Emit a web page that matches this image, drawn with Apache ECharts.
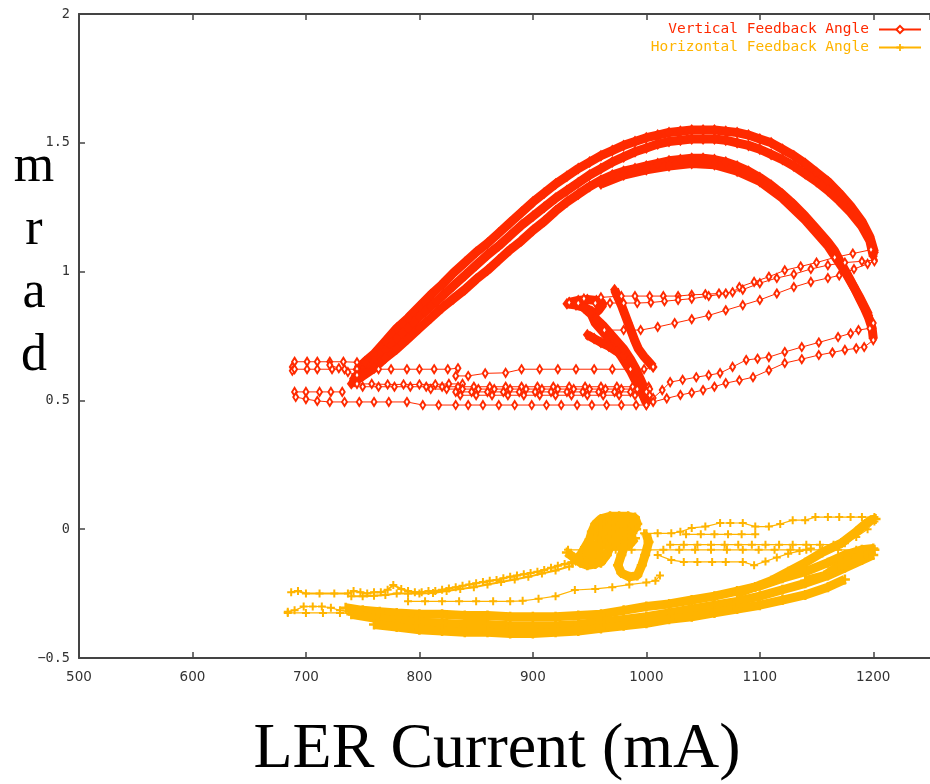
<!DOCTYPE html>
<html><head><meta charset="utf-8">
<script src="https://cdn.jsdelivr.net/npm/echarts@6/dist/echarts.min.js"></script>
<style>html,body{margin:0;padding:0;background:#fff}#c{width:930px;height:784px}</style>
</head><body><div id="c"></div><script>
// ---------- axis ticks ----------
const xTicks = [500, 600, 700, 800, 900, 1000, 1100, 1200];
const yTicks = [-0.5, 0, 0.5, 1, 1.5, 2];
const seriesNames = ['Vertical Feedback Angle', 'Horizontal Feedback Angle'];

// ---------- Vertical Feedback Angle (red) : sparse paths ----------
const vLeftTop = [[688,0.63],[690,0.65],[701,0.65],[710,0.65],[721,0.65],[733,0.65],[745,0.648]];
const vLeft062 = [[688,0.615],[690,0.621],[701,0.621],[710,0.621],[723,0.621],[734,0.621],[745,0.621],[764,0.621],[775,0.621],[789,0.621],[800,0.621],[813,0.621],[825,0.621],[834,0.625]];
const vLeftSlope = [[721,0.637],[729,0.625],[737,0.61],[745,0.598]];
const vMid062 = [[832,0.595],[843,0.595],[858,0.605],[876,0.607],[890,0.621],[906,0.621],[922,0.621],[938,0.621],[954,0.621],[970,0.621],[986,0.621],[998,0.621],[1006,0.63]];
const vLine056 = [[745,0.564],[758,0.564],[772,0.562],[786,0.562],[800,0.562],[814,0.562],[826,0.564],[838,0.564]];
const vLine055 = [[750,0.553],[764,0.553],[778,0.553],[792,0.553],[806,0.553],[820,0.553],[834,0.553],[848,0.553],[862,0.553],[876,0.553],[890,0.553],[904,0.553],[918,0.553],[932,0.553],[946,0.553],[960,0.553],[974,0.553],[988,0.553],[1002,0.553]];
const vLine054 = [[810,0.544],[824,0.544],[838,0.544],[852,0.544],[866,0.544],[880,0.544],[894,0.544],[908,0.544],[922,0.544],[936,0.544],[950,0.544],[964,0.544],[978,0.544],[992,0.544],[1003,0.544]];
const vLeft053 = [[690,0.533],[700,0.533],[712,0.533],[722,0.533],[732,0.533]];
const vLine053 = [[832,0.533],[846,0.533],[860,0.533],[874,0.533],[888,0.533],[902,0.533],[916,0.533],[930,0.533],[944,0.533],[958,0.533],[972,0.533],[986,0.533],[1000,0.533]];
const vLine052 = [[836,0.52],[850,0.52],[864,0.52],[878,0.52],[892,0.52],[906,0.52],[920,0.52],[934,0.52],[948,0.52],[962,0.52],[976,0.52],[990,0.52],[1003,0.52]];
const vBottom = [[691,0.513],[700,0.505],[710,0.498],[721,0.494],[734,0.494],[747,0.494],[760,0.494],[773,0.494],[789,0.494],[803,0.482],[817,0.482],[832,0.482],[843,0.482],[856,0.482],[870,0.482],[884,0.482],[899,0.482],[912,0.482],[925,0.482],[939,0.482],[952,0.482],[965,0.482],[978,0.482],[991,0.482],[1000,0.482]];
const vUpper090 = [[932,0.88],[945,0.895],[960,0.9],[978,0.905],[990,0.905],[1003,0.905],[1015,0.905],[1028,0.905],[1040,0.91],[1052,0.912],[1064,0.915],[1076,0.92],[1082,0.94],[1095,0.96],[1108,0.98],[1122,1.005],[1136,1.02],[1150,1.035],[1166,1.055],[1182,1.07],[1198,1.085]];
const vUpper088 = [[940,0.878],[955,0.878],[968,0.878],[980,0.878],[992,0.878],[1004,0.88],[1016,0.885],[1028,0.89],[1040,0.895],[1055,0.905],[1070,0.915],[1085,0.93],[1100,0.955],[1115,0.975],[1130,0.99],[1145,1.01],[1160,1.025],[1175,1.035],[1190,1.04],[1201,1.045]];
const vUpper077 = [[963,0.773],[980,0.773],[995,0.773],[1010,0.785],[1025,0.8],[1040,0.815],[1055,0.83],[1070,0.85],[1085,0.87],[1100,0.89],[1115,0.915],[1130,0.94],[1145,0.96],[1160,0.975],[1170,0.985],[1183,1.01],[1195,1.03],[1201,1.04]];
const vLow1 = [[1000,0.49],[1006,0.509],[1014,0.54],[1021,0.571],[1032,0.58],[1044,0.59],[1055,0.598],[1065,0.606],[1076,0.63],[1088,0.657],[1098,0.662],[1108,0.668],[1122,0.688],[1137,0.707],[1152,0.725],[1169,0.746],[1180,0.76],[1187,0.773],[1197,0.78],[1200,0.8]];
const vLow2 = [[1000,0.482],[1006,0.494],[1018,0.508],[1030,0.521],[1040,0.53],[1050,0.54],[1060,0.553],[1070,0.567],[1082,0.578],[1094,0.59],[1108,0.617],[1122,0.645],[1137,0.66],[1152,0.676],[1164,0.686],[1175,0.696],[1185,0.702],[1192,0.707],[1200,0.734]];

// ---------- Vertical Feedback Angle (red) : dense passes ----------
const vOuter = [[745,0.62],[752,0.65],[760,0.68],[770,0.73],[780,0.78],[790,0.82],[800,0.865],[810,0.91],[820,0.95],[830,0.995],[840,1.035],[850,1.075],[860,1.11],[870,1.15],[880,1.19],[890,1.23],[900,1.27],[910,1.305],[920,1.34],[930,1.37],[940,1.40],[950,1.425],[960,1.45],[970,1.47],[980,1.49],[990,1.505],[1000,1.52],[1010,1.53],[1020,1.54],[1030,1.545],[1040,1.55],[1050,1.55],[1060,1.55],[1070,1.545],[1080,1.54],[1090,1.53],[1100,1.515],[1110,1.50],[1120,1.475],[1130,1.45],[1140,1.42],[1150,1.385],[1160,1.35],[1170,1.305],[1180,1.255],[1190,1.195],[1197,1.135],[1201,1.075]];
const vMiddle = [[742,0.585],[750,0.615],[760,0.65],[770,0.695],[780,0.74],[790,0.78],[800,0.825],[810,0.865],[820,0.905],[830,0.945],[840,0.985],[850,1.025],[860,1.065],[870,1.10],[880,1.14],[890,1.18],[900,1.215],[910,1.25],[920,1.285],[930,1.315],[940,1.345],[950,1.375],[960,1.40],[970,1.425],[980,1.445],[990,1.465],[1000,1.48],[1010,1.495],[1020,1.505],[1030,1.51],[1040,1.515],[1050,1.515],[1060,1.515],[1070,1.51],[1080,1.50],[1090,1.49],[1100,1.475],[1110,1.455],[1120,1.435],[1130,1.41],[1140,1.38],[1150,1.35],[1160,1.315],[1170,1.275],[1180,1.23],[1190,1.175],[1197,1.12],[1200,1.06]];
const vInner = [[740,0.565],[750,0.595],[760,0.625],[770,0.665],[780,0.70],[790,0.74],[800,0.78],[810,0.82],[820,0.86],[830,0.895],[840,0.93],[850,0.97],[860,1.005],[870,1.045],[880,1.085],[890,1.12],[900,1.16],[910,1.195],[920,1.235],[930,1.27],[940,1.30],[950,1.33],[960,1.355],[970,1.375],[980,1.39],[990,1.40],[1000,1.41],[1010,1.42],[1020,1.43],[1030,1.435],[1040,1.44],[1050,1.44],[1060,1.435],[1070,1.425],[1080,1.41],[1090,1.39],[1100,1.365],[1110,1.335],[1120,1.30],[1130,1.26],[1140,1.215],[1150,1.165],[1160,1.115],[1166,1.08],[1172,1.03],[1177,0.99],[1183,0.94],[1188,0.895],[1192,0.86],[1196,0.82],[1199,0.78],[1200,0.74]];
const vInner2 = [[960,1.34],[980,1.375],[1000,1.395],[1020,1.41],[1040,1.42],[1060,1.415],[1080,1.39],[1100,1.35],[1120,1.285],[1140,1.2],[1160,1.1],[1175,1.0],[1188,0.9],[1196,0.83]];
const vClusterA = [[932,0.88],[940,0.888],[948,0.892],[956,0.888],[962,0.875],[958,0.85],[952,0.83],[955,0.8],[960,0.775],[966,0.745],[971,0.715],[976,0.685],[981,0.65],[986,0.615],[990,0.58],[994,0.55],[997,0.52],[1000,0.49]];
const vClusterB = [[972,0.93],[975,0.9],[978,0.87],[981,0.835],[984,0.8],[987,0.765],[990,0.73],[993,0.7],[998,0.67],[1003,0.645],[1006,0.63]];
const vClusterC = [[948,0.755],[954,0.74],[960,0.725],[967,0.71],[974,0.69],[980,0.675]];
const vClusterD = [[930,0.875],[938,0.87],[946,0.86],[952,0.845]];
const vClusterE = [[945,0.86],[950,0.84],[956,0.815],[962,0.79],[968,0.76],[974,0.73],[980,0.70],[986,0.66],[991,0.62],[995,0.58],[999,0.54],[1002,0.5]];

// ---------- Horizontal Feedback Angle (orange) : sparse paths ----------
const hLeftUpper = [[687,-0.245],[693,-0.24],[700,-0.25],[712,-0.25],[725,-0.25],[737,-0.25],[742,-0.24],[748,-0.245],[754,-0.25],[760,-0.245],[766,-0.245],[772,-0.235],[777,-0.217],[784,-0.232],[790,-0.24],[796,-0.245],[802,-0.245],[808,-0.24],[814,-0.24],[820,-0.235],[826,-0.23],[832,-0.225],[838,-0.22],[844,-0.215],[850,-0.21],[856,-0.205],[862,-0.2],[868,-0.197],[874,-0.19],[880,-0.185],[886,-0.18],[892,-0.175],[898,-0.17],[904,-0.165],[910,-0.158],[916,-0.15],[922,-0.142],[928,-0.135],[934,-0.128],[940,-0.12]];
const hLeftUpper2 = [[740,-0.26],[750,-0.26],[760,-0.258],[770,-0.255],[780,-0.25],[790,-0.25],[800,-0.25],[812,-0.248],[824,-0.24],[836,-0.232],[848,-0.225],[860,-0.215],[872,-0.205],[884,-0.195],[896,-0.185],[908,-0.172],[920,-0.16],[932,-0.145]];
const hLeftLower = [[684,-0.32],[690,-0.315],[698,-0.30],[706,-0.30],[714,-0.30],[722,-0.305],[730,-0.315],[738,-0.32],[745,-0.32]];
const hLeftLower2 = [[684,-0.325],[700,-0.325],[715,-0.325],[730,-0.325],[745,-0.33]];
const hMidSparse = [[790,-0.28],[805,-0.28],[820,-0.28],[835,-0.28],[850,-0.28],[865,-0.28],[880,-0.28],[891,-0.278],[905,-0.27],[920,-0.26],[937,-0.236],[955,-0.232],[970,-0.225],[985,-0.215],[1000,-0.207],[1008,-0.2],[1012,-0.18]];
const hTopRight = [[998,-0.016],[1010,-0.016],[1022,-0.016],[1030,-0.01],[1040,0.005],[1052,0.01],[1065,0.024],[1074,0.024],[1085,0.024],[1096,0.01],[1108,0.01],[1118,0.02],[1129,0.035],[1140,0.035],[1149,0.047],[1160,0.047],[1170,0.047],[1180,0.047],[1190,0.047],[1201,0.047]];
const hLine002 = [[1035,-0.02],[1048,-0.02],[1060,-0.02],[1072,-0.02],[1084,-0.02],[1096,-0.02]];
const hLine006 = [[1021,-0.06],[1033,-0.06],[1045,-0.06],[1057,-0.06],[1069,-0.06],[1081,-0.06],[1093,-0.06],[1105,-0.06],[1117,-0.06],[1129,-0.06],[1141,-0.06],[1153,-0.06],[1165,-0.06],[1175,-0.055],[1185,-0.03],[1195,0.0],[1201,0.03]];
const hLine008 = [[931,-0.08],[945,-0.08],[959,-0.08],[973,-0.08],[987,-0.08],[1001,-0.08],[1015,-0.08],[1029,-0.08],[1043,-0.08],[1057,-0.08],[1071,-0.08],[1085,-0.08],[1099,-0.08],[1113,-0.08],[1127,-0.08],[1141,-0.08],[1155,-0.08],[1169,-0.08],[1185,-0.08],[1201,-0.08]];
const hLine013 = [[1010,-0.1],[1022,-0.12],[1033,-0.127],[1045,-0.127],[1058,-0.127],[1070,-0.127],[1085,-0.127],[1095,-0.14],[1105,-0.125],[1115,-0.11],[1125,-0.095],[1135,-0.085],[1145,-0.075]];

// ---------- Horizontal Feedback Angle (orange) : dense passes ----------
const hBandTop = [[735,-0.305],[750,-0.315],[765,-0.32],[780,-0.325],[800,-0.33],[820,-0.33],[840,-0.335],[860,-0.335],[880,-0.34],[900,-0.34],[920,-0.34],[940,-0.335],[960,-0.33],[980,-0.315],[1000,-0.30],[1020,-0.29],[1040,-0.275],[1060,-0.26],[1080,-0.24],[1100,-0.22],[1120,-0.19],[1140,-0.165],[1160,-0.13],[1175,-0.1],[1190,-0.08],[1200,-0.075]];
const hBandMid = [[740,-0.33],[760,-0.345],[780,-0.355],[800,-0.36],[820,-0.365],[840,-0.37],[860,-0.37],[880,-0.375],[900,-0.375],[920,-0.375],[940,-0.37],[960,-0.36],[980,-0.35],[1000,-0.34],[1020,-0.325],[1040,-0.31],[1060,-0.295],[1080,-0.28],[1100,-0.26],[1120,-0.235],[1140,-0.21],[1160,-0.18],[1175,-0.15],[1190,-0.12],[1200,-0.1]];
const hBandLow = [[760,-0.37],[780,-0.38],[800,-0.39],[820,-0.395],[840,-0.40],[860,-0.4],[880,-0.405],[900,-0.405],[920,-0.4],[940,-0.395],[960,-0.385],[980,-0.375],[1000,-0.365],[1020,-0.35],[1040,-0.34],[1060,-0.325],[1080,-0.31],[1100,-0.295],[1120,-0.275],[1140,-0.255],[1160,-0.225],[1175,-0.195]];
const hBandDiag1 = [[1080,-0.25],[1096,-0.224],[1110,-0.2],[1125,-0.165],[1140,-0.13],[1155,-0.09],[1172,-0.054],[1185,-0.01],[1193,0.02],[1198,0.035],[1202,0.04]];
const hBandDiag2 = [[1140,-0.2],[1157,-0.18],[1170,-0.14],[1185,-0.11],[1201,-0.08]];
const hBump = [[935,-0.13],[942,-0.1],[946,-0.07],[950,-0.04],[952,-0.01],[955,0.02],[960,0.04],[968,0.05],[976,0.05],[984,0.05],[990,0.045],[992,0.02],[988,0.0],[980,-0.01],[970,-0.015],[962,-0.01],[958,0.0]];
const hBumpFill = [[960,0.02],[970,0.025],[980,0.025],[988,0.02],[982,0.0],[972,0.005],[965,-0.03],[960,-0.06],[955,-0.09],[950,-0.12]];
const hBumpFill2 = [[957,0.028],[990,0.03],[991,0.0],[957,-0.005],[956,-0.035],[990,-0.035],[985,-0.06],[950,-0.06],[945,-0.09],[965,-0.1],[960,-0.13],[940,-0.12]];
const hBumpDown = [[985,-0.01],[982,-0.05],[978,-0.1],[975,-0.14],[978,-0.17],[985,-0.185],[992,-0.18],[996,-0.14],[999,-0.1],[1002,-0.05],[1000,-0.02]];
const hBumpLeft = [[930,-0.09],[936,-0.11],[942,-0.13],[948,-0.14],[955,-0.135],[960,-0.12],[965,-0.1],[968,-0.07]];

const RED = '#ff2a00', ORANGE = '#ffb400';
const PLUS = 'path://M3,0H5V3H8V5H5V8H3V5H0V3H3Z';

function mk(name, data, color, symbol, size, width, z) {
  return {
    name, type: 'line', data, symbol, symbolSize: size, showSymbol: true,
    lineStyle: { width, color }, itemStyle: { color, borderWidth: 1 },
    emphasis: { disabled: true }, silent: true, animation: false, z
  };
}
const redThin = [vLeftTop, vLeft062, vLeftSlope, vMid062, vLine056, vLine055, vLine054, vLeft053, vLine053, vLine052, vBottom, vUpper090, vUpper088, vUpper077, vLow1, vLow2];
const redThick = [vOuter, vMiddle, vInner, vInner2, vClusterA, vClusterB, vClusterC, vClusterD, vClusterE];
const orThin = [hLeftUpper, hLeftUpper2, hLeftLower, hLeftLower2, hMidSparse, hTopRight, hLine002, hLine006, hLine008, hLine013];
const orThick = [hBandTop, hBandMid, hBandLow, hBandDiag1, hBandDiag2, hBump, hBumpFill, hBumpFill2, hBumpDown, hBumpLeft];

const series = [];
redThin.forEach(d => series.push(mk(seriesNames[0], d, RED, 'emptyDiamond', [5, 8], 1, 3)));
orThin.forEach((d, i) => series.push(mk(seriesNames[1], d, ORANGE, PLUS, 8, i < 2 ? 2 : 1.2, 3)));
redThick.forEach(d => series.push(mk(seriesNames[0], d, RED, 'diamond', [9, 12], 9, 2)));
orThick.forEach(d => series.push(mk(seriesNames[1], d, ORANGE, PLUS, 10, 9, 2)));

const axisColor = '#444';
const chart = echarts.init(document.getElementById('c'), null, { renderer: 'canvas' });
chart.setOption({
  animation: false,
  backgroundColor: '#fff',
  grid: { left: 79, top: 14, width: 860, height: 644, containLabel: false },
  xAxis: [
    { type: 'value', min: xTicks[0], max: 1250, interval: 100, position: 'bottom',
      axisLine: { show: true, onZero: false, lineStyle: { color: axisColor, width: 2 } },
      axisTick: { show: true, inside: true, length: 6, lineStyle: { color: axisColor, width: 1.5 } },
      axisLabel: { margin: 12, color: '#333', fontFamily: 'DejaVu Sans', fontSize: 13.5, showMaxLabel: false,
        formatter: v => String(v) },
      splitLine: { show: false } },
    { type: 'value', min: xTicks[0], max: 1250, interval: 100, position: 'top',
      axisLine: { show: true, onZero: false, lineStyle: { color: axisColor, width: 2 } },
      axisTick: { show: true, inside: true, length: 6, lineStyle: { color: axisColor, width: 1.5 } },
      axisLabel: { show: false }, splitLine: { show: false } }
  ],
  yAxis: [{
    type: 'value', min: yTicks[0], max: yTicks[yTicks.length - 1], interval: 0.5,
    axisLine: { show: true, onZero: false, lineStyle: { color: axisColor, width: 2 } },
    axisTick: { show: true, inside: true, length: 6, lineStyle: { color: axisColor, width: 1.5 } },
    axisLabel: { margin: 9, color: '#333', fontFamily: 'DejaVu Sans Mono', fontSize: 13.5,
      formatter: v => (v < 0 ? '\u2212' + Math.abs(v) : String(v)) },
    splitLine: { show: false }
  }],
  legend: {
    orient: 'vertical', right: 8, top: 22, padding: 0, align: 'right',
    itemWidth: 42, itemHeight: 9, itemGap: 3,
    selectedMode: false,
    textStyle: { fontFamily: 'DejaVu Sans Mono', fontSize: 14.5, lineHeight: 14, padding: [0, 5, 0, 0] },
    data: [
      { name: seriesNames[0], textStyle: { color: RED } },
      { name: seriesNames[1], textStyle: { color: ORANGE } }
    ]
  },
  graphic: [
    { type: 'text', x: 34, y: 262, silent: true,
      style: { text: 'm\nr\na\nd', font: '52px "Liberation Serif"', fill: '#000',
        align: 'center', textAlign: 'center', verticalAlign: 'middle', textVerticalAlign: 'middle', lineHeight: 63 } },
    { type: 'text', x: 497, y: 750, silent: true,
      style: { text: 'LER Current (mA)', font: '64px "Liberation Serif"', fill: '#000',
        align: 'center', textAlign: 'center', verticalAlign: 'middle', textVerticalAlign: 'middle' } }
  ],
  series
});
</script></body></html>
